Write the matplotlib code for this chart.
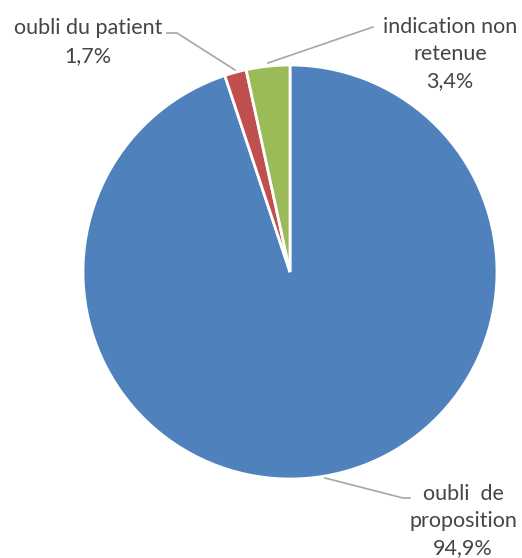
import matplotlib.pyplot as plt

labels = ['oubli  de\nproposition', 'oubli du patient', 'indication non\nretenue']
values = [94.9, 1.7, 3.4]
pct_txt = ['94,9%', '1,7%', '3,4%']
colors = ['#4f81bd', '#c0504d', '#9bbb59']

plt.rcParams['font.family'] = ['Lato', 'DejaVu Sans']

H = 558
fig = plt.figure(figsize=(5.22, 5.58), dpi=100)
ax = fig.add_axes([0, 0, 1, 1])

cx, cy, r = 290, 272, 207
ax.pie(values, colors=colors, startangle=90, counterclock=False,
       center=(cx, H - cy), radius=r,
       wedgeprops=dict(edgecolor='white', linewidth=2))
ax.set_xlim(0, 522)
ax.set_ylim(0, H)
ax.set_aspect('equal')
ax.axis('off')

txt = '#454545'
line = '#a6a6a6'
fs = 15.5
ls = 1.45
ax.text(463, H - 521, labels[0] + '\n' + pct_txt[0],
        ha='center', va='center', fontsize=fs, color=txt, linespacing=ls)
ax.text(88, H - 42, labels[1] + '\n' + pct_txt[1],
        ha='center', va='center', fontsize=fs, color=txt, linespacing=ls)
ax.text(450, H - 54, labels[2] + '\n' + pct_txt[2],
        ha='center', va='center', fontsize=fs, color=txt, linespacing=ls)

ax.plot([167, 177, 235], [H - 33, H - 33, H - 70], color=line, lw=1.2)
ax.plot([373, 268], [H - 27, H - 63], color=line, lw=1.2)
ax.plot([325, 403, 410], [H - 478, H - 498, H - 498], color=line, lw=1.2)

fig.savefig('out.png', dpi=100)
